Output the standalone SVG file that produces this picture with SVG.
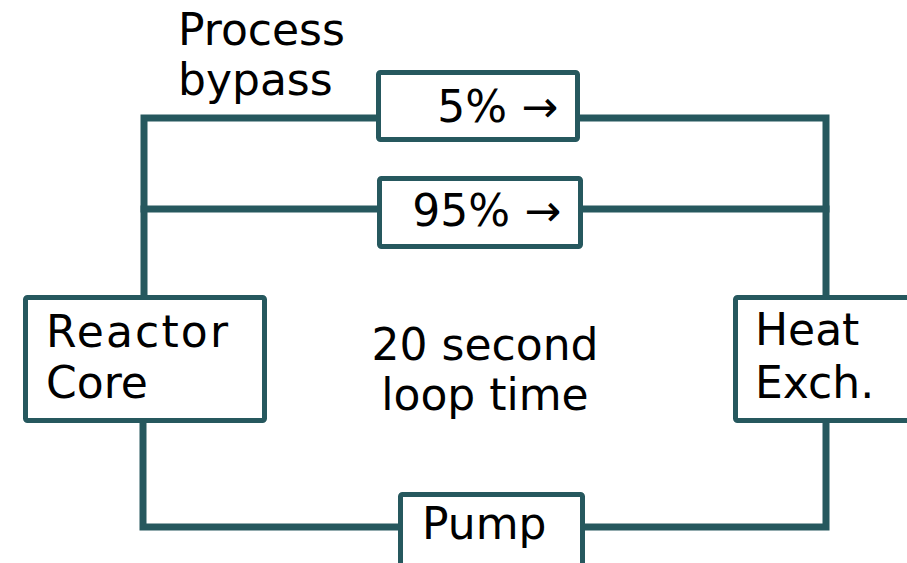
<svg xmlns="http://www.w3.org/2000/svg" width="907" height="563" viewBox="0 0 907 563">
<style>
.box{fill:#fff;stroke:#26585e;stroke-width:5;}
.pipe{fill:none;stroke:#26585e;stroke-width:7;stroke-linejoin:miter;stroke-linecap:square;}
.t{font-family:"DejaVu Sans","Liberation Sans",sans-serif;font-size:44px;fill:#000;}
</style>
<rect width="907" height="563" fill="#fff"/>
<g id="connectors">
<path class="pipe" d="M144,295 V118 H378"/>
<path class="pipe" d="M578,118 H826 V295"/>
<path class="pipe" d="M144,209 H379"/>
<path class="pipe" d="M581,209 H826"/>
<path class="pipe" d="M143,423 V527 H400"/>
<path class="pipe" d="M583,527 H826 V423"/>
</g>
<g id="label-process-bypass">
<text class="t" x="178" y="45">Process</text>
<text class="t" x="178" y="95">bypass</text>
</g>
<g id="bypass-5">
<rect class="box" x="378.5" y="72.5" width="199" height="67" rx="2"/>
<text class="t" x="558" y="122" text-anchor="end">5% →</text>
</g>
<g id="main-95">
<rect class="box" x="379.5" y="178.5" width="201" height="68" rx="2"/>
<text class="t" x="561" y="226" text-anchor="end">95% →</text>
</g>
<g id="reactor-core">
<rect class="box" x="25.5" y="297.5" width="239" height="123" rx="2"/>
<text class="t" x="46" y="347" textLength="182" lengthAdjust="spacing">Reactor</text>
<text class="t" x="46" y="398">Core</text>
</g>
<g id="heat-exch">
<rect class="box" x="735.5" y="297.5" width="200" height="123" rx="2"/>
<text class="t" x="755" y="345">Heat</text>
<text class="t" x="755" y="398">Exch.</text>
</g>
<g id="loop-time">
<text class="t" x="485" y="360" text-anchor="middle">20 second</text>
<text class="t" x="485" y="410" text-anchor="middle">loop time</text>
</g>
<g id="pump">
<rect class="box" x="400.5" y="494.5" width="182" height="100" rx="2"/>
<text class="t" x="422" y="539">Pump</text>
</g>
</svg>
